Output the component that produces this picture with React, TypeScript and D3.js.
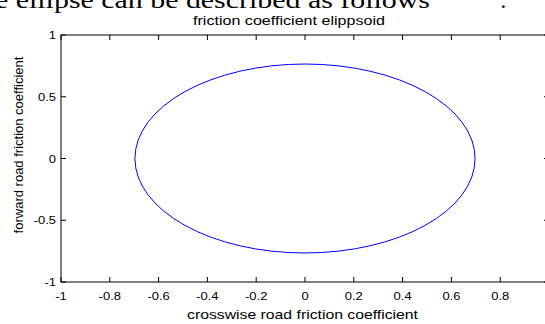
import React from 'react';
import * as d3 from 'd3';

const xTicks = [-1, -0.8, -0.6, -0.4, -0.2, 0, 0.2, 0.4, 0.6, 0.8, 1];
const yTicks = [-1, -0.5, 0, 0.5, 1];
// the label at 1 lies past the cropped right edge
const xTickLabels = ['-1', '-0.8', '-0.6', '-0.4', '-0.2', '0', '0.2', '0.4', '0.6', '0.8', ''];
const yTickLabels = ['-1', '-0.5', '0', '0.5', '1'];
// ellipse: centre and semi-axes
const ellipseCenter = [0, 0];
const ellipseRadii = [0.697, 0.765];

const W = 545;
const H = 324;

const App = () => {
  const x = d3.scaleLinear().domain([-1, 1]).range([61, 549]);
  const y = d3.scaleLinear().domain([-1, 1]).range([282, 35]);
  const font = 'Arial, "Liberation Sans", sans-serif';
  const tick = 5;
  const sx = 1.18; // the picture is stretched sideways

  return (
    <svg width={W} height={H} style={{ position: 'fixed', left: 0, top: 0, background: '#fff' }}>
      <rect width={W} height={H} fill="#fff" />
      {/* cut-off text from the page above */}
      <text x={-5} y={8} fontFamily='"Liberation Serif", "Times New Roman", serif' fontSize={24}
        textLength={435} lengthAdjust="spacingAndGlyphs" fill="#000">e ellipse can be described as follows</text>
      <text x={500} y={8} fontFamily='"Liberation Serif", serif' fontSize={24} fill="#000">:</text>

      <text x={193} y={25} fontFamily={font} fontSize={13}
        textLength={192} lengthAdjust="spacingAndGlyphs">friction coefficient elippsoid</text>

      {/* axes box */}
      <rect x={x(-1)} y={y(1)} width={x(1) - x(-1)} height={y(-1) - y(1)} fill="none" stroke="#000" strokeWidth={1} />

      {xTicks.map((t, i) => (
        <g key={'x' + i}>
          <line x1={x(t)} x2={x(t)} y1={y(-1)} y2={y(-1) - tick} stroke="#000" />
          <line x1={x(t)} x2={x(t)} y1={y(1)} y2={y(1) + tick} stroke="#000" />
          <text transform={`translate(${x(t)},300) scale(${sx},1)`} textAnchor="middle"
            fontFamily={font} fontSize={11}>{xTickLabels[i]}</text>
        </g>
      ))}
      {yTicks.map((t, i) => (
        <g key={'y' + i}>
          <line x1={x(-1)} x2={x(-1) + tick} y1={y(t)} y2={y(t)} stroke="#000" />
          <line x1={x(1)} x2={x(1) - tick} y1={y(t)} y2={y(t)} stroke="#000" />
          <text transform={`translate(56,${y(t) + 4}) scale(${sx},1)`} textAnchor="end"
            fontFamily={font} fontSize={11}>{yTickLabels[i]}</text>
        </g>
      ))}

      <ellipse cx={x(ellipseCenter[0])} cy={y(ellipseCenter[1])}
        rx={x(ellipseRadii[0]) - x(0)} ry={y(0) - y(ellipseRadii[1])}
        fill="none" stroke="#0000ff" strokeWidth={1} />

      <text x={187} y={319} fontFamily={font} fontSize={13}
        textLength={231} lengthAdjust="spacingAndGlyphs">crosswise road friction coefficient</text>
      <text transform="translate(23,145) rotate(-90)" textAnchor="middle" fontFamily={font} fontSize={13}>forward road friction coefficient</text>
    </svg>
  );
};

export default App;
